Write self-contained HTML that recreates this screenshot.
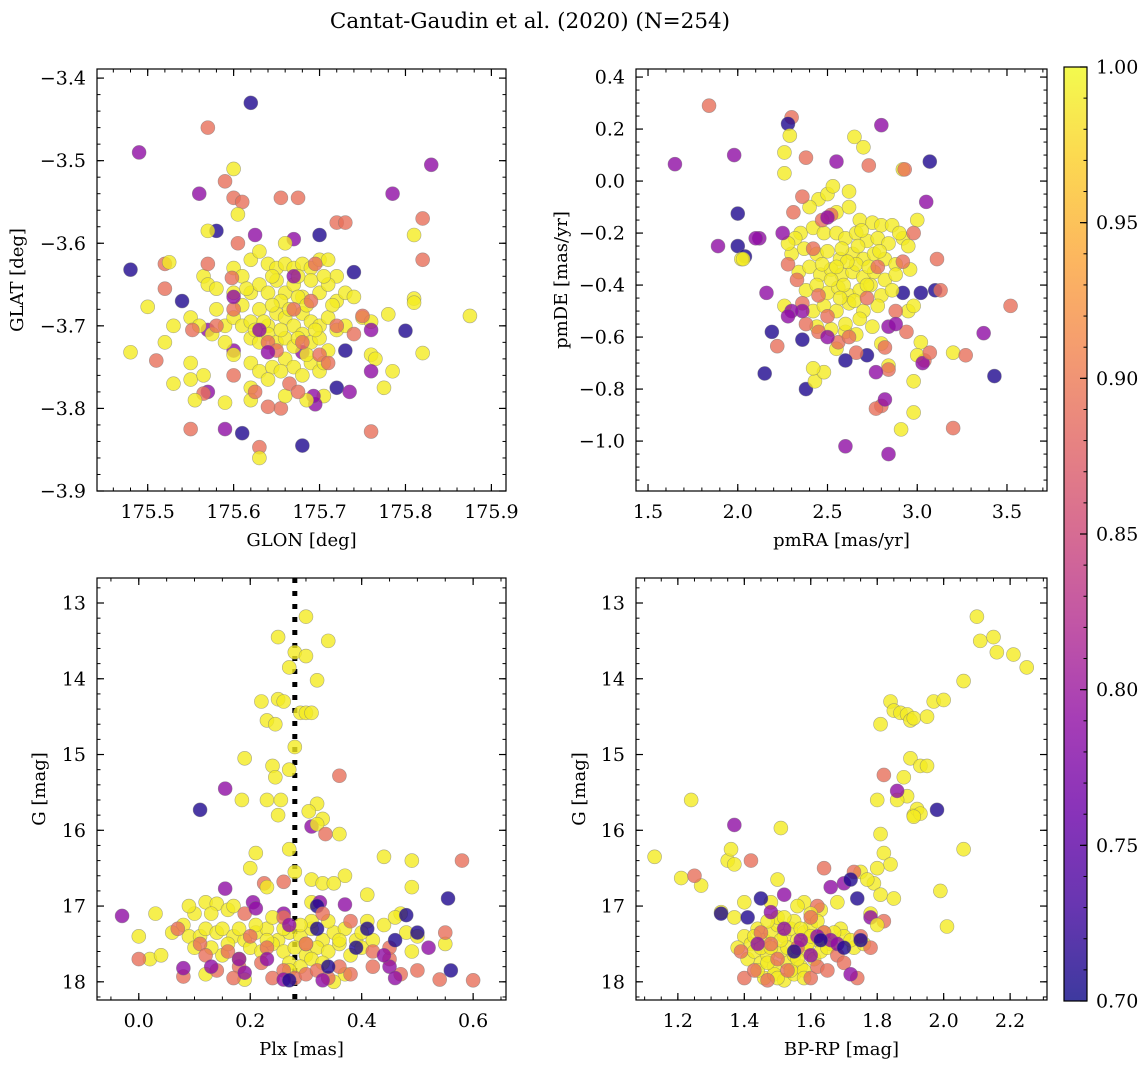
<!DOCTYPE html>
<html><head><meta charset="utf-8">
<style>
html,body{margin:0;padding:0;background:#fff;}
svg{display:block;font-family:"DejaVu Serif","Liberation Serif",serif;}
</style></head>
<body>
<svg id="fig" width="1148" height="1067" viewBox="0 0 1148 1067" xmlns="http://www.w3.org/2000/svg">
<defs>
<linearGradient id="cbgrad" x1="0" y1="1" x2="0" y2="0">
<stop offset="0" stop-color="#0d0887"/><stop offset="0.1" stop-color="#41049d"/><stop offset="0.2" stop-color="#6a00a8"/><stop offset="0.3" stop-color="#8f0da4"/><stop offset="0.4" stop-color="#b12a90"/><stop offset="0.5" stop-color="#cc4778"/><stop offset="0.6" stop-color="#e16462"/><stop offset="0.7" stop-color="#f2844b"/><stop offset="0.8" stop-color="#fca636"/><stop offset="0.9" stop-color="#fcce25"/><stop offset="1" stop-color="#f0f921"/>
</linearGradient>
</defs>
<text x="530" y="28" font-size="21.5" text-anchor="middle">Cantat-Gaudin et al. (2020) (N=254)</text>
</svg>
<script>
// ---- data: [x, y, membership probability] ----
const glonGlat = [
[175.62,-3.43,.71],[175.57,-3.46,.89],[175.49,-3.49,.79],[175.83,-3.505,.79],[175.785,-3.54,.79],[175.56,-3.54,.79],[175.6,-3.51,.99],[175.59,-3.525,.89],[175.6,-3.545,.89],[175.61,-3.55,.89],[175.82,-3.57,.89],[175.81,-3.59,.99],[175.82,-3.62,.89],[175.605,-3.565,.99],[175.655,-3.545,.89],[175.675,-3.545,.89],[175.72,-3.575,.89],[175.73,-3.575,.89],[175.67,-3.595,.79],[175.7,-3.59,.71],[175.58,-3.585,.71],[175.57,-3.585,.99],[175.625,-3.59,.79],[175.66,-3.6,.99],[175.52,-3.625,.89],[175.525,-3.623,.99],[175.48,-3.632,.71],[175.5,-3.677,.99],[175.54,-3.67,.71],[175.52,-3.655,.89],[175.74,-3.635,.71],[175.81,-3.667,.99],[175.81,-3.672,.99],[175.875,-3.688,.99],[175.78,-3.686,.99],[175.8,-3.706,.71],[175.82,-3.733,.99],[175.76,-3.735,.99],[175.765,-3.74,.99],[175.73,-3.73,.71],[175.68,-3.732,.79],[175.48,-3.732,.99],[175.51,-3.742,.89],[175.52,-3.72,.99],[175.53,-3.77,.99],[175.55,-3.765,.99],[175.57,-3.78,.79],[175.565,-3.782,.89],[175.6,-3.76,.89],[175.59,-3.793,.99],[175.62,-3.775,.99],[175.72,-3.775,.71],[175.735,-3.78,.79],[175.705,-3.785,.99],[175.775,-3.775,.99],[175.785,-3.755,.99],[175.76,-3.755,.79],[175.55,-3.825,.89],[175.59,-3.825,.79],[175.61,-3.83,.71],[175.63,-3.847,.89],[175.63,-3.86,.99],[175.68,-3.845,.71],[175.76,-3.828,.89],[175.695,-3.795,.79],[175.693,-3.785,.79],[175.655,-3.8,.89],[175.64,-3.798,.89],[175.6,-3.73,.79],[175.57,-3.705,.79],[175.55,-3.745,.99],[175.565,-3.76,.99],[175.555,-3.79,.99],[175.66,-3.785,.99],[175.685,-3.79,.99],
[175.6,-3.63,.99],[175.61,-3.64,.99],[175.62,-3.62,.99],[175.63,-3.61,.99],[175.64,-3.625,.99],[175.65,-3.63,.99],[175.66,-3.625,.99],[175.67,-3.63,.99],[175.68,-3.625,.99],[175.69,-3.63,.99],[175.7,-3.62,.99],[175.71,-3.62,.99],[175.72,-3.64,.99],[175.6,-3.66,.99],[175.61,-3.675,.99],[175.62,-3.66,.99],[175.63,-3.65,.99],[175.64,-3.66,.99],[175.65,-3.645,.99],[175.66,-3.66,.99],[175.67,-3.65,.99],[175.68,-3.665,.99],[175.69,-3.645,.99],[175.7,-3.66,.99],[175.71,-3.65,.99],[175.72,-3.67,.99],[175.73,-3.66,.99],[175.74,-3.665,.99],[175.58,-3.68,.99],[175.59,-3.7,.99],[175.6,-3.69,.99],[175.61,-3.7,.99],[175.62,-3.695,.99],[175.63,-3.68,.99],[175.64,-3.7,.99],[175.65,-3.685,.99],[175.66,-3.69,.99],[175.67,-3.7,.99],[175.68,-3.685,.99],[175.69,-3.695,.99],[175.7,-3.7,.99],[175.71,-3.69,.99],[175.72,-3.705,.99],[175.73,-3.7,.99],[175.75,-3.69,.99],[175.76,-3.695,.99],[175.59,-3.72,.99],[175.6,-3.735,.99],[175.62,-3.715,.99],[175.63,-3.72,.99],[175.64,-3.71,.99],[175.65,-3.72,.99],[175.66,-3.715,.99],[175.67,-3.725,.99],[175.68,-3.71,.99],[175.69,-3.72,.99],[175.7,-3.715,.99],[175.71,-3.73,.99],[175.62,-3.745,.99],[175.63,-3.755,.99],[175.645,-3.75,.99],[175.66,-3.74,.99],[175.67,-3.75,.99],[175.68,-3.76,.99],[175.69,-3.745,.99],[175.7,-3.755,.99],[175.64,-3.765,.99],[175.62,-3.79,.99],[175.565,-3.64,.99],[175.57,-3.65,.99],[175.58,-3.655,.99],[175.55,-3.69,.99],[175.56,-3.7,.99],[175.575,-3.71,.99],[175.53,-3.7,.99],
[175.655,-3.67,.99],[175.665,-3.68,.99],[175.675,-3.665,.99],[175.685,-3.675,.99],[175.645,-3.675,.99],[175.635,-3.695,.99],[175.655,-3.705,.99],[175.675,-3.715,.99],[175.695,-3.705,.99],[175.645,-3.64,.99],[175.675,-3.64,.99],[175.705,-3.64,.99],[175.615,-3.655,.99],[175.625,-3.705,.99],[175.685,-3.735,.99],[175.655,-3.755,.99],[175.715,-3.675,.99],[175.705,-3.745,.99],
[175.605,-3.6,.89],[175.598,-3.642,.89],[175.64,-3.72,.89],[175.65,-3.73,.89],[175.67,-3.68,.89],[175.68,-3.72,.89],[175.69,-3.67,.89],[175.7,-3.735,.89],[175.71,-3.745,.89],[175.72,-3.7,.89],[175.665,-3.77,.89],[175.675,-3.78,.89],[175.6,-3.68,.89],[175.58,-3.7,.89],[175.552,-3.705,.89],[175.625,-3.78,.89],[175.75,-3.688,.89],[175.74,-3.71,.89],[175.57,-3.625,.89],[175.695,-3.625,.89],
[175.6,-3.665,.79],[175.63,-3.705,.79],[175.64,-3.732,.79],[175.67,-3.64,.79],[175.76,-3.705,.79]
];
const pmraPmde = [
[1.84,0.29,.89],[1.65,0.065,.79],[1.98,0.1,.79],[2.3,0.245,.89],[2.28,0.22,.71],[2.29,0.175,.99],[2.26,0.11,.99],[2.26,0.03,.99],[2.38,0.09,.89],[2.55,0.075,.79],[2.65,0.17,.99],[2.7,0.13,.99],[2.8,0.215,.79],[2.73,0.06,.89],[2.92,0.045,.99],[2.93,0.045,.89],[3.07,0.075,.71],[1.89,-0.25,.79],[2.0,-0.125,.71],[2.0,-0.25,.71],[2.04,-0.29,.71],[2.02,-0.3,.99],[2.12,-0.22,.79],[2.16,-0.43,.79],[2.15,-0.74,.71],[2.19,-0.58,.71],[2.22,-0.635,.89],[2.36,-0.61,.71],[2.38,-0.8,.71],[2.43,-0.77,.99],[2.26,-0.48,.99],[3.05,-0.08,.79],[3.11,-0.3,.89],[3.1,-0.42,.71],[3.13,-0.42,.89],[3.02,-0.43,.71],[2.92,-0.43,.71],[3.52,-0.48,.89],[3.37,-0.585,.79],[3.43,-0.75,.71],[3.2,-0.66,.99],[3.27,-0.67,.89],[3.02,-0.62,.99],[3.04,-0.69,.89],[3.0,-0.67,.99],[3.03,-0.7,.79],[3.07,-0.66,.89],[2.98,-0.77,.99],[2.84,-0.71,.99],[2.84,-0.725,.89],[2.8,-0.625,.99],[2.82,-0.64,.89],[2.72,-0.67,.71],[2.66,-0.66,.89],[2.6,-0.69,.71],[2.6,-0.58,.99],[2.55,-0.645,.99],[2.48,-0.735,.99],[2.42,-0.72,.99],[2.8,-0.865,.89],[2.77,-0.875,.89],[2.98,-0.89,.99],[2.91,-0.955,.99],[3.2,-0.95,.89],[2.6,-1.02,.79],[2.84,-1.05,.79],[2.82,-0.84,.79],[2.84,-0.56,.79],[2.77,-0.735,.79],[2.1,-0.22,.79],[2.03,-0.3,.99],
[2.45,-0.07,.99],[2.5,-0.05,.99],[2.4,-0.1,.99],[2.55,-0.12,.99],[2.62,-0.1,.99],[2.68,-0.15,.99],[2.75,-0.16,.99],[2.8,-0.17,.99],[2.86,-0.17,.99],[2.35,-0.2,.99],[2.42,-0.18,.99],[2.48,-0.2,.99],[2.55,-0.2,.99],[2.6,-0.22,.99],[2.66,-0.2,.99],[2.72,-0.23,.99],[2.78,-0.22,.99],[2.84,-0.24,.99],[2.92,-0.22,.99],[2.95,-0.25,.99],[2.3,-0.28,.99],[2.37,-0.26,.99],[2.44,-0.28,.99],[2.5,-0.27,.99],[2.57,-0.3,.99],[2.64,-0.28,.99],[2.7,-0.3,.99],[2.76,-0.28,.99],[2.82,-0.3,.99],[2.88,-0.32,.99],[2.96,-0.34,.99],[2.34,-0.35,.99],[2.4,-0.33,.99],[2.46,-0.36,.99],[2.52,-0.34,.99],[2.58,-0.36,.99],[2.64,-0.35,.99],[2.7,-0.37,.99],[2.76,-0.35,.99],[2.82,-0.38,.99],[2.88,-0.36,.99],[2.38,-0.42,.99],[2.44,-0.4,.99],[2.5,-0.43,.99],[2.56,-0.41,.99],[2.62,-0.44,.99],[2.68,-0.42,.99],[2.74,-0.4,.99],[2.8,-0.44,.99],[2.86,-0.42,.99],[2.42,-0.5,.99],[2.48,-0.48,.99],[2.55,-0.5,.99],[2.62,-0.47,.99],[2.7,-0.5,.99],[2.78,-0.48,.99],[2.44,-0.56,.99],[2.52,-0.57,.99],[2.6,-0.55,.99],[2.68,-0.53,.99],[2.75,-0.56,.99],[2.66,-0.59,.99],[2.9,-0.2,.99],[3.0,-0.15,.99],[2.95,-0.5,.99],[2.98,-0.48,.99],[2.32,-0.22,.99],[2.28,-0.24,.99],[2.62,-0.04,.99],[2.53,-0.02,.99],[2.58,-0.26,.99],[2.66,-0.32,.99],[2.72,-0.4,.99],[2.52,-0.38,.99],
[2.61,-0.31,.99],[2.55,-0.33,.99],[2.67,-0.25,.99],[2.73,-0.33,.99],[2.59,-0.4,.99],[2.65,-0.46,.99],[2.47,-0.32,.99],[2.79,-0.27,.99],[2.57,-0.45,.99],[2.69,-0.19,.99],
[2.31,-0.12,.89],[2.36,-0.06,.89],[2.52,-0.13,.89],[2.47,-0.15,.89],[2.42,-0.26,.89],[2.28,-0.32,.89],[2.33,-0.38,.89],[2.45,-0.44,.89],[2.36,-0.47,.89],[2.5,-0.52,.89],[2.45,-0.58,.89],[2.38,-0.55,.89],[2.56,-0.62,.89],[2.62,-0.6,.89],[2.72,-0.45,.89],[2.78,-0.33,.89],[2.92,-0.31,.89],[2.98,-0.2,.89],[2.88,-0.5,.89],[2.94,-0.58,.89],
[2.25,-0.2,.79],[2.36,-0.5,.79],[2.3,-0.5,.79],[2.28,-0.52,.79],[2.5,-0.14,.79],[2.5,-0.6,.79],[2.88,-0.55,.79]
];
const plxG = [
[0.3,13.18,.99],[0.25,13.45,.99],[0.34,13.5,.99],[0.28,13.65,.99],[0.3,13.7,.99],[0.27,13.85,.99],[0.32,14.02,.99],[0.22,14.3,.99],[0.25,14.27,.99],[0.26,14.3,.99],[0.29,14.45,.99],[0.3,14.45,.99],[0.31,14.45,.99],[0.23,14.55,.99],[0.245,14.6,.99],[0.28,14.9,.99],[0.19,15.05,.99],[0.24,15.15,.99],[0.27,15.2,.99],[0.245,15.3,.99],[0.36,15.28,.89],[0.155,15.45,.79],[0.11,15.73,.71],[0.185,15.6,.99],[0.23,15.6,.99],[0.255,15.6,.99],[0.25,15.8,.99],[0.32,15.65,.99],[0.305,15.75,.99],[0.33,15.85,.99],[0.31,15.95,.79],[0.32,15.92,.99],[0.335,16.05,.89],[0.36,16.05,.99],[0.21,16.3,.99],[0.27,16.25,.99],[0.44,16.35,.99],[0.49,16.4,.99],[0.58,16.4,.89],[0.2,16.5,.99],[0.49,16.75,.99],[0.37,16.6,.99],[0.28,16.55,.99],[0.31,16.65,.99],[0.33,16.7,.99],[0.35,16.7,.99],[0.225,16.7,.89],[0.23,16.75,.99],[0.26,16.68,.89],[0.205,16.95,.79],[0.31,16.95,.99],[0.325,16.95,.79],[0.37,16.98,.79],[0.41,16.85,.99],[0.47,17.1,.99],[0.555,16.9,.71],[0.155,16.77,.79],[0.32,17.0,.71],[0.26,17.1,.79],
[-0.03,17.13,.79],[0.03,17.1,.99],[0.08,17.25,.99],[0.1,17.1,.99],[0.12,16.95,.99],[0.14,16.97,.99],[0.16,17.05,.99],[0.17,17.0,.99],[0.13,17.1,.99],[0.06,17.35,.99],[0.09,17.4,.99],[0.11,17.4,.99],[0.12,17.3,.99],[0.14,17.35,.99],[0.15,17.3,.99],[0.17,17.4,.99],[0.19,17.45,.99],[0.21,17.35,.99],[0.23,17.3,.99],[0.25,17.45,.99],[0.27,17.35,.99],[0.29,17.4,.99],[0.31,17.3,.99],[0.33,17.45,.99],[0.35,17.35,.99],[0.37,17.3,.99],[0.39,17.45,.99],[0.41,17.2,.99],[0.44,17.25,.99],[0.48,17.35,.99],[0.5,17.4,.99],[0.46,17.15,.99],[0.2,17.55,.99],[0.22,17.6,.99],[0.24,17.5,.99],[0.26,17.6,.99],[0.28,17.55,.99],[0.3,17.65,.99],[0.32,17.55,.99],[0.34,17.6,.99],[0.36,17.5,.99],[0.38,17.65,.99],[0.18,17.7,.99],[0.27,17.75,.99],[0.29,17.8,.99],[0.31,17.7,.99],[0.33,17.75,.99],[0.1,17.55,.99],[0.0,17.4,.99],[0.02,17.7,.99],[0.04,17.65,.99],[0.12,17.9,.99],[0.19,17.97,.99],[0.27,17.85,.99],[0.37,17.9,.99],[0.49,17.6,.99],[0.55,17.5,.99],[0.35,18.0,.99],[0.31,17.2,.99],[0.21,17.25,.99],[0.15,17.65,.99],[0.24,17.15,.99],[0.4,17.55,.99],
[0.29,17.25,.99],[0.34,17.2,.99],[0.36,17.45,.99],[0.4,17.35,.99],[0.42,17.45,.99],[0.3,17.5,.99],[0.26,17.3,.99],[0.18,17.3,.99],[0.16,17.5,.99],[0.23,17.45,.99],[0.09,17.0,.99],[0.13,17.55,.99],
[0.0,17.7,.89],[0.08,17.93,.89],[0.11,17.5,.89],[0.16,17.6,.89],[0.14,17.85,.89],[0.18,17.8,.89],[0.22,17.75,.89],[0.24,17.95,.89],[0.26,17.85,.89],[0.28,17.95,.89],[0.3,17.9,.89],[0.32,17.85,.89],[0.34,17.95,.89],[0.36,17.8,.89],[0.38,17.9,.89],[0.42,17.8,.89],[0.45,17.7,.89],[0.47,17.9,.89],[0.5,17.85,.89],[0.54,17.97,.89],[0.6,17.98,.89],[0.55,17.35,.89],[0.45,17.55,.89],[0.23,17.55,.89],[0.12,17.65,.89],[0.2,17.4,.89],[0.3,17.5,.89],[0.07,17.3,.89],[0.33,17.1,.89],[0.38,17.2,.89],[0.26,17.15,.89],[0.19,17.1,.89],[0.42,17.6,.89],[0.17,17.95,.89],
[0.08,17.82,.79],[0.13,17.8,.79],[0.18,17.7,.79],[0.23,17.7,.79],[0.27,17.25,.79],[0.26,17.97,.79],[0.33,17.98,.79],[0.45,17.8,.79],[0.52,17.55,.79],[0.46,17.95,.79],[0.21,17.03,.79],[0.19,17.88,.79],[0.44,17.65,.79],
[0.27,17.98,.71],[0.34,17.8,.71],[0.39,17.55,.71],[0.46,17.45,.71],[0.5,17.35,.71],[0.56,17.85,.71],[0.48,17.12,.71],[0.32,17.3,.71],[0.41,17.3,.71]
];
const colorG = [
[2.1,13.18,.99],[2.11,13.5,.99],[2.15,13.45,.99],[2.16,13.65,.99],[2.21,13.68,.99],[2.25,13.85,.99],[2.06,14.03,.99],[1.84,14.3,.99],[1.85,14.42,.99],[1.87,14.45,.99],[1.89,14.47,.99],[1.9,14.55,.99],[1.91,14.52,.99],[1.95,14.5,.99],[1.97,14.3,.99],[2.0,14.28,.99],[1.81,14.6,.99],[1.88,15.3,.99],[1.9,15.05,.99],[1.91,15.8,.99],[1.89,15.55,.99],[1.93,15.15,.99],[1.95,15.15,.99],[1.86,15.6,.99],[1.8,15.6,.99],[1.92,15.72,.99],[1.93,15.78,.99],[1.91,15.82,.99],[1.81,16.05,.99],[1.82,16.3,.99],[1.84,16.45,.99],[2.06,16.25,.99],[1.99,16.8,.99],[2.01,17.27,.99],[1.86,15.48,.79],[1.82,15.27,.89],[1.98,15.73,.71],[1.8,16.5,.99],[1.79,16.7,.99],[1.81,16.85,.99],[1.85,16.9,.99],[1.75,16.55,.99],[1.77,16.65,.99],[1.78,17.1,.99],[1.73,16.55,.89],[1.7,16.7,.79],[1.74,16.9,.71],[1.82,17.2,.89],[1.78,17.15,.79],[1.8,17.25,.99],
[1.13,16.35,.99],[1.21,16.63,.99],[1.24,15.6,.99],[1.27,16.73,.99],[1.25,16.6,.89],[1.35,16.4,.99],[1.37,16.45,.99],[1.36,16.25,.99],[1.37,15.93,.79],[1.42,16.4,.89],[1.4,16.95,.99],[1.33,17.08,.99],[1.33,17.1,.71],[1.37,17.15,.99],[1.41,17.15,.71],[1.51,15.97,.99],[1.48,16.95,.99],[1.45,16.9,.71],[1.5,16.65,.99],[1.52,16.85,.79],[1.58,16.95,.99],[1.56,17.0,.99],[1.63,17.05,.99],[1.66,16.75,.79],[1.64,16.5,.89],[1.68,16.95,.99],[1.72,16.65,.71],[1.69,17.3,.99],[1.62,17.0,.89],
[1.4,17.4,.99],[1.42,17.5,.99],[1.44,17.3,.99],[1.46,17.45,.99],[1.48,17.35,.99],[1.5,17.25,.99],[1.52,17.4,.99],[1.54,17.3,.99],[1.56,17.45,.99],[1.58,17.35,.99],[1.6,17.25,.99],[1.62,17.45,.99],[1.64,17.35,.99],[1.66,17.5,.99],[1.7,17.4,.99],[1.73,17.55,.99],[1.76,17.5,.99],[1.41,17.7,.99],[1.43,17.6,.99],[1.45,17.75,.99],[1.47,17.65,.99],[1.49,17.8,.99],[1.51,17.6,.99],[1.53,17.75,.99],[1.55,17.65,.99],[1.57,17.8,.99],[1.59,17.6,.99],[1.61,17.7,.99],[1.63,17.6,.99],[1.65,17.55,.99],[1.46,17.95,.99],[1.49,17.9,.99],[1.52,17.98,.99],[1.55,17.9,.99],[1.58,17.85,.99],[1.5,17.15,.99],[1.55,17.2,.99],[1.47,17.2,.99],[1.53,17.55,.99],[1.44,17.85,.99],[1.6,17.1,.99],[1.38,17.55,.99],[1.67,17.35,.99],[1.72,17.45,.99],[1.59,17.5,.99],[1.45,17.55,.99],
[1.51,17.45,.99],[1.57,17.3,.99],[1.48,17.55,.99],[1.54,17.85,.99],[1.5,17.95,.99],[1.56,17.7,.99],[1.6,17.4,.99],[1.43,17.4,.99],[1.52,17.15,.99],[1.62,17.2,.99],[1.47,17.75,.99],[1.58,17.95,.99],
[1.4,17.95,.89],[1.43,17.85,.89],[1.47,17.98,.89],[1.5,17.7,.89],[1.53,17.85,.89],[1.56,17.55,.89],[1.6,17.95,.89],[1.62,17.8,.89],[1.65,17.85,.89],[1.68,17.65,.89],[1.7,17.75,.89],[1.74,17.95,.89],[1.75,17.4,.89],[1.78,17.55,.89],[1.6,17.15,.89],[1.64,17.35,.89],[1.48,17.5,.89],[1.39,17.6,.89],[1.45,17.35,.89],
[1.44,17.5,.79],[1.52,17.3,.79],[1.57,17.45,.79],[1.62,17.4,.79],[1.66,17.45,.79],[1.68,17.5,.79],[1.72,17.9,.79],[1.6,17.65,.79],[1.48,17.08,.79],
[1.55,17.6,.71],[1.63,17.45,.71],[1.7,17.55,.71],[1.75,17.45,.71]
];
// ---- tick label arrays ----
const tlXTicks = [175.5,175.6,175.7,175.8,175.9];
const tlYTicks = [-3.4,-3.5,-3.6,-3.7,-3.8,-3.9];
const trXTicks = [1.5,2.0,2.5,3.0,3.5];
const trYTicks = [0.4,0.2,0.0,-0.2,-0.4,-0.6,-0.8,-1.0];
const blXTicks = [0.0,0.2,0.4,0.6];
const brXTicks = [1.2,1.4,1.6,1.8,2.0,2.2];
const gTicks = [13,14,15,16,17,18];
const cbTicks = [0.70,0.75,0.80,0.85,0.90,0.95,1.00];
const plxLine = [0.28];

const NS='http://www.w3.org/2000/svg';
const svg=document.getElementById('fig');
function el(tag,attrs,parent){const e=document.createElementNS(NS,tag);for(const k in attrs)e.setAttribute(k,attrs[k]);(parent||svg).appendChild(e);return e;}
const stops=[[0,[13,8,135]],[.1,[65,4,157]],[.2,[106,0,168]],[.3,[143,13,164]],[.4,[177,42,144]],[.5,[204,71,120]],[.6,[225,100,98]],[.7,[242,132,75]],[.8,[252,166,54]],[.9,[252,206,37]],[1,[240,249,33]]];
function plasma(p){let t=Math.max(0,Math.min(1,(p-0.7)/0.3));for(let i=1;i<stops.length;i++){if(t<=stops[i][0]){const a=stops[i-1],b=stops[i];const f=(t-a[0])/(b[0]-a[0]);const c=a[1].map((v,j)=>Math.round(v+(b[1][j]-v)*f));return 'rgb('+c.join(',')+')';}}return 'rgb(240,249,33)';}
function lin(d0,d1,r0,r1){return v=>r0+(v-d0)/(d1-d0)*(r1-r0);}
function range(a,b,s){const out=[];const n=Math.round((b-a)/s);for(let i=0;i<=n;i++)out.push(a+i*s);return out;}
const TF=19;
function panel(o){
  const g=el('g',{});
  
  
  const sx=lin(o.xd[0],o.xd[1],o.L,o.R), sy=lin(o.yd[0],o.yd[1],o.T,o.B);
  if(o.vline){o.vline.forEach(v=>{const ln=el('line',{x1:sx(v),x2:sx(v),y1:o.T,y2:o.B,stroke:'#000','stroke-width':5,'stroke-dasharray':'5,8'},g);
    
    });}
  o.data.forEach(d=>{const c=el('circle',{cx:sx(d[0]),cy:sy(d[1]),r:7,fill:plasma(d[2]),'fill-opacity':0.8,stroke:'#777','stroke-opacity':0.6,'stroke-width':0.6},g);
    
    });
  const fr=el('rect',{x:o.L,y:o.T,width:o.R-o.L,height:o.B-o.T,fill:'none',stroke:'#000','stroke-width':1.2},g);
  
  
  const lo=Math.min(o.xd[0],o.xd[1]),hi=Math.max(o.xd[0],o.xd[1]);
  range(Math.ceil(lo/o.xminor-1e-6)*o.xminor,hi,o.xminor).forEach(v=>{const x=sx(v);if(x<o.L||x>o.R)return;el('line',{x1:x,x2:x,y1:o.B,y2:o.B-3.5,stroke:'#000'},g);el('line',{x1:x,x2:x,y1:o.T,y2:o.T+3.5,stroke:'#000'},g);});
  const ylo=Math.min(o.yd[0],o.yd[1]),yhi=Math.max(o.yd[0],o.yd[1]);
  range(Math.ceil(ylo/o.yminor-1e-6)*o.yminor,yhi,o.yminor).forEach(v=>{const y=sy(v);if(y<o.T||y>o.B)return;el('line',{x1:o.L,x2:o.L+3.5,y1:y,y2:y,stroke:'#000'},g);el('line',{x1:o.R,x2:o.R-3.5,y1:y,y2:y,stroke:'#000'},g);});
  o.xt.forEach(v=>{const x=sx(v);el('line',{x1:x,x2:x,y1:o.B,y2:o.B-7,stroke:'#000','stroke-width':1.2},g);el('line',{x1:x,x2:x,y1:o.T,y2:o.T+7,stroke:'#000','stroke-width':1.2},g);
    const t=el('text',{x:x,y:o.B+27,'font-size':TF,'text-anchor':'middle'},g);t.textContent=v.toFixed(o.xdec).replace('-','\u2212');
    
    });
  o.yt.forEach(v=>{const y=sy(v);el('line',{x1:o.L,x2:o.L+7,y1:y,y2:y,stroke:'#000','stroke-width':1.2},g);el('line',{x1:o.R,x2:o.R-7,y1:y,y2:y,stroke:'#000','stroke-width':1.2},g);
    const t=el('text',{x:o.L-11,y:y+6.5,'font-size':TF,'text-anchor':'end'},g);t.textContent=v.toFixed(o.ydec).replace('-','\u2212');
    
    });
  const xl=el('text',{x:(o.L+o.R)/2,y:o.B+55,'font-size':18,'text-anchor':'middle'},g);xl.textContent=o.xlabel;
  
  
  const yx=o.ylx,yy=(o.T+o.B)/2;
  const yl=el('text',{x:yx,y:yy,'font-size':18,'text-anchor':'middle',transform:'rotate(-90 '+yx+' '+yy+')'},g);yl.textContent=o.ylabel;
  
  
}
panel({name:'glon-glat-panel',L:97,R:506,T:69,B:491,xd:[175.441,175.917],yd:[-3.389,-3.9],xt:tlXTicks,yt:tlYTicks,xminor:0.02,yminor:0.02,xdec:1,ydec:1,data:glonGlat,xlabel:'GLON [deg]',ylabel:'GLAT [deg]',ylx:23});
panel({name:'proper-motion-panel',L:636,R:1047,T:69,B:491,xd:[1.433,3.723],yd:[0.431,-1.192],xt:trXTicks,yt:trYTicks,xminor:0.1,yminor:0.05,xdec:1,ydec:1,data:pmraPmde,xlabel:'pmRA [mas/yr]',ylabel:'pmDE [mas/yr]',ylx:567});
panel({name:'parallax-mag-panel',L:97,R:506,T:578,B:1000,xd:[-0.075,0.659],yd:[12.67,18.24],xt:blXTicks,yt:gTicks,xminor:0.05,yminor:0.2,xdec:1,ydec:0,data:plxG,vline:plxLine,xlabel:'Plx [mas]',ylabel:'G [mag]',ylx:45});
panel({name:'cmd-panel',L:636,R:1047,T:578,B:1000,xd:[1.074,2.311],yd:[12.67,18.24],xt:brXTicks,yt:gTicks,xminor:0.05,yminor:0.2,xdec:1,ydec:0,data:colorG,xlabel:'BP-RP [mag]',ylabel:'G [mag]',ylx:585});

// colorbar
const cb=el('g',{});


const cT=67,cB=1001,cL=1064,cR=1087;
const cy=lin(0.7,1.0,cB,cT);
el('rect',{x:cL,y:cT,width:cR-cL,height:cB-cT,fill:'url(#cbgrad)','fill-opacity':0.8},cb);
el('rect',{x:cL,y:cT,width:cR-cL,height:cB-cT,fill:'none',stroke:'#000','stroke-width':1.2},cb);
range(0.70,1.0,0.01).forEach(v=>{const y=cy(v);el('line',{x1:cR,x2:cR-3.5,y1:y,y2:y,stroke:'#000'},cb);});
cbTicks.forEach(v=>{const y=cy(v);el('line',{x1:cR,x2:cR-7,y1:y,y2:y,stroke:'#000','stroke-width':1.2},cb);
  const t=el('text',{x:cR+9,y:y+6.5,'font-size':TF},cb);t.textContent=v.toFixed(2);
  
  });
</script>
</body></html>
